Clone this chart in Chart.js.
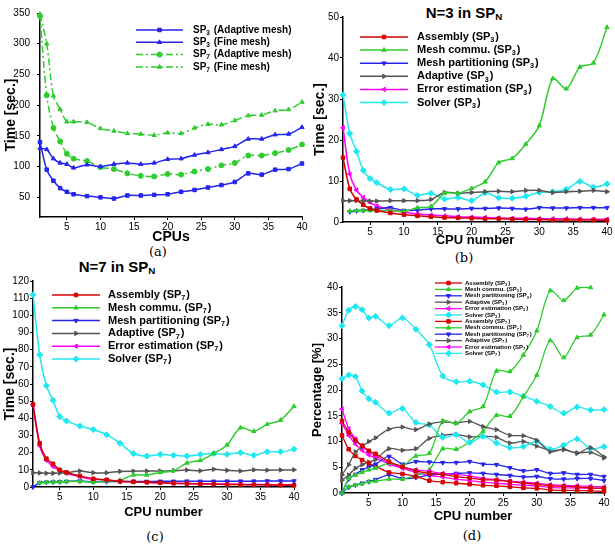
<!DOCTYPE html>
<html>
<head>
<meta charset="utf-8">
<script src="https://cdn.jsdelivr.net/npm/chart.js@4.4.1/dist/chart.umd.min.js"></script>
<style>
  body { margin: 0; background: #fff; }
  #page { position: relative; width: 615px; height: 544px; overflow: hidden; font-family: "Liberation Sans", Arial, sans-serif; }
  .panel { position: absolute; }
  .title { position: absolute; font-weight: bold; font-size: 15px; white-space: nowrap; transform: translate(-50%, -50%); }
  .title sub { font-size: 0.65em; vertical-align: -0.3em; }
  .cap { position: absolute; font-family: "DejaVu Serif", "Liberation Serif", serif; font-size: 13px; transform: translate(-50%, -50%); }
</style>
</head>
<body>
<div id="page">
  <div class="title" style="left:464px;top:13px">N=3 in SP<sub>N</sub></div>
  <div class="title" style="left:117px;top:267px">N=7 in SP<sub>N</sub></div>
  <div class="cap" style="left:158px;top:251px">(a)</div>
  <div class="cap" style="left:464px;top:257px">(b)</div>
  <div class="cap" style="left:155px;top:536px">(c)</div>
  <div class="cap" style="left:472px;top:535px">(d)</div>
</div>
<script>
// CPU counts on the x axis
const cpus = [1, 2, 3, 4, 5, 6, 8, 10, 12, 14, 16, 18, 20, 22, 24, 26, 28, 30, 32, 34, 36, 38, 40];
const xTicks = [5, 10, 15, 20, 25, 30, 35, 40];

// (a) total time
const aTicks = [50, 100, 150, 200, 250, 300, 350];
const sp3Adaptive = [140, 95, 77, 65, 59, 55, 52, 50, 48, 53, 53, 54, 55, 59, 62, 66, 70, 75, 89, 87, 95, 96, 105];
const sp3Fine = [130, 128, 113, 106, 104, 98, 103, 100, 104, 106, 104, 106, 112, 113, 119, 123, 128, 133, 145, 145, 152, 153, 164];
const sp7Adaptive = [345, 216, 163, 141, 121, 113, 109, 99, 96, 89, 85, 84, 88, 87, 92, 96, 102, 106, 118, 118, 122, 127, 136];
const sp7Fine = [348, 300, 215, 193, 173, 173, 172, 162, 158, 154, 153, 151, 155, 154, 163, 169, 168, 175, 183, 184, 191, 193, 205];

// (b) N=3 breakdown
const bTicks = [0, 10, 20, 30, 40, 50];
const n3Assembly = [15.7, 8.1, 5.5, 4.2, 3.3, 2.8, 2.2, 1.8, 1.5, 1.3, 1.1, 1.0, 0.9, 0.8, 0.8, 0.7, 0.6, 0.6, 0.5, 0.5, 0.5, 0.5, 0.4];
const n3Commu = [null, 2.7, 2.8, 2.8, 2.8, 2.8, 2.8, 2.6, 3.5, 3.8, 7.0, 7.0, 8.2, 9.8, 14.5, 15.5, 19.0, 23.5, 35.0, 32.5, 37.8, 38.8, 47.5];
const n3Partition = [null, 2.5, 2.7, 2.8, 3.0, 3.2, 3.5, 2.8, 2.9, 3.2, 3.2, 3.2, 3.3, 3.3, 3.4, 3.3, 3.1, 3.5, 3.4, 3.4, 3.5, 3.5, 3.5];
const n3Adaptive = [5.2, 5.2, 5.2, 5.1, 5.1, 5.1, 5.2, 5.2, 5.2, 5.5, 7.2, 7.0, 7.2, 7.4, 7.5, 7.4, 7.7, 7.7, 7.2, 7.4, 7.5, 7.7, 7.4];
const n3ErrorEst = [23, 11.7, 7.8, 6.0, 4.8, 3.9, 3.0, 2.4, 2.0, 1.7, 1.5, 1.3, 1.2, 1.1, 1.0, 0.9, 0.9, 0.8, 0.8, 0.8, 0.7, 0.7, 0.7];
const n3Solver = [31, 21.6, 17.2, 12.6, 10.6, 9.6, 7.9, 8.1, 6.5, 7.0, 5.6, 6.0, 5.2, 7.1, 5.9, 5.8, 6.3, 7.2, 7.4, 8.0, 9.9, 8.5, 9.3];

// (c) N=7 breakdown
const cTicks = [0, 10, 20, 30, 40, 50, 60, 70, 80, 90, 100, 110, 120];
const n7Assembly = [48, 25.5, 16.5, 13.5, 10, 8.5, 6.5, 4.8, 4.2, 3.3, 3.0, 2.8, 2.5, 2.2, 2.0, 1.8, 1.7, 1.5, 1.4, 1.3, 1.2, 1.1, 1.0];
const n7Commu = [null, 2.5, 2.7, 2.9, 3.0, 3.2, 3.3, 2.9, 3.5, 4.0, 7.0, 7.0, 8.5, 9.5, 14, 15.5, 19.5, 24.5, 34.5, 32.5, 36.5, 39, 47];
const n7Partition = [0, 2.5, 2.8, 2.9, 3.0, 3.2, 3.5, 3.0, 3.1, 3.2, 3.2, 3.2, 3.3, 3.3, 3.4, 3.3, 3.3, 3.4, 3.4, 3.4, 3.5, 3.5, 3.5];
const n7Adaptive = [8.3, 8.2, 8.0, 8.0, 8.1, 8.3, 9.3, 8.3, 8.3, 9.1, 9.2, 9.3, 9.3, 9.5, 9.9, 9.4, 10.3, 9.7, 9.3, 10, 9.8, 9.9, 10];
const n7ErrorEst = [48, 24, 15.5, 12, 9.5, 8, 6, 4.5, 4, 3.3, 3.0, 2.7, 2.4, 2.2, 2.0, 1.9, 1.8, 1.6, 1.5, 1.5, 1.4, 1.3, 1.3];
const n7Solver = [112, 77, 59, 50.5, 41, 38.5, 35.5, 33.5, 30.5, 25.5, 19.5, 18, 19, 18.5, 18, 19, 19.5, 19, 20, 18.5, 20.5, 20.5, 22];

// (d) percentages
const dTicks = [0, 5, 10, 15, 20, 25, 30, 35, 40];
const pctN3Assembly = [14.0, 11.8, 10.2, 9.2, 8.2, 7.6, 6.1, 5.1, 4.3, 3.8, 3.6, 3.2, 2.9, 2.6, 2.5, 2.2, 1.9, 1.7, 1.4, 1.3, 1.2, 1.0, 0.9];
const pctN3Commu = [0, 2.8, 3.5, 4.0, 4.5, 4.8, 5.8, 5.3, 7.2, 7.7, 14.0, 13.5, 15.8, 16.8, 23.7, 23.6, 26.8, 31.5, 39.3, 37.4, 39.8, 39.9, null];
const pctN3Partition = [0, 2.7, 3.6, 4.5, 5.0, 5.6, 7.1, 5.6, 6.1, 6.0, 5.9, 5.9, 6.1, 5.6, 5.5, 4.9, 4.3, 4.5, 3.8, 3.9, 3.6, 3.6, 3.2];
const pctN3Adaptive = [3.5, 5.5, 8.0, 9.0, 10.0, 10.7, 12.4, 12.8, 12.3, 13.4, 13.8, 13.6, 13.9, 12.9, 12.3, 11.2, 11.1, 10.2, 8.0, 8.5, 7.7, 8.8, 7.0];
const pctN3ErrorEst = [16.3, 12.5, 10.5, 9.0, 8.0, 7.2, 5.8, 5.0, 4.5, 4.2, 3.8, 3.6, 3.3, 2.8, 2.6, 2.3, 2.1, 1.9, 1.6, 1.5, 1.4, 1.3, 1.2];
const pctN3Solver = [22.2, 22.9, 22.6, 19.8, 18.3, 17.6, 15.5, 16.4, 13.7, 13.2, 10.8, 11.3, 9.8, 11.0, 9.7, 8.8, 9.0, 10.0, 8.5, 9.3, 10.5, 8.6, 9.0];
const pctN7Assembly = [11.2, 8.5, 7.2, 6.4, 5.7, 5.2, 4.0, 3.7, 3.2, 2.4, 2.1, 1.9, 1.7, 1.5, 1.4, 1.2, 1.0, 0.9, 0.6, 0.5, 0.5, 0.4, 0.3];
const pctN7Commu = [0, 1.2, 1.5, 1.8, 2.2, 2.3, 2.7, 2.7, 3.4, 4.5, 8.6, 8.5, 9.9, 12.0, 15.1, 14.9, 18.7, 22.9, 29.6, 26.3, 30.2, 30.7, 34.6];
const pctN7Partition = [0, 1.1, 1.5, 1.9, 2.2, 2.6, 3.5, 2.8, 3.0, 3.5, 3.7, 3.8, 3.9, 3.8, 3.6, 3.4, 3.1, 3.2, 2.8, 2.7, 2.8, 2.8, 2.4];
const pctN7Adaptive = [2.5, 3.5, 4.8, 5.5, 6.0, 6.5, 8.6, 8.3, 8.6, 10.6, 11.2, 11.4, 10.9, 11.0, 10.8, 9.7, 10.0, 9.1, 8.3, 8.4, 7.8, 7.9, 6.8];
const pctN7ErrorEst = [13.5, 11.2, 9.5, 8.3, 7.4, 6.8, 5.6, 4.8, 4.0, 3.4, 3.1, 2.7, 2.4, 2.1, 1.9, 1.7, 1.5, 1.4, 1.1, 1.0, 1.0, 0.9, 0.9];
const pctN7Solver = [32.5, 35.5, 36.2, 35.6, 34.0, 34.3, 32.5, 34.0, 31.8, 28.8, 22.7, 21.6, 21.7, 21.0, 19.6, 19.6, 18.8, 17.8, 16.8, 15.5, 16.7, 16.1, 16.2];

const RED = '#d40000', GREEN = '#2ecc2e', BLUE = '#2525ee', GREY = '#555555', MAGENTA = '#ff00ff', CYAN = '#1ee8f0';
const FONT = '"Liberation Sans", Arial, sans-serif';

function pts(ys) {
  return cpus.map((c, i) => ({x: c, y: ys[i]}));
}

function ds(label, ys, color, style, rot, width, radius, dash) {
  return {
    label: label, data: pts(ys),
    borderColor: color, backgroundColor: color,
    borderWidth: width, borderDash: dash || [],
    pointStyle: style, pointRotation: rot, pointRadius: radius,
    pointBorderWidth: 1, tension: 0.3, clip: 6
  };
}

// draws "SP_3" style text with a subscript char
function richText(ctx, text, x, y, size) {
  const parts = text.split(/_(.)/);
  ctx.textBaseline = 'middle';
  ctx.textAlign = 'left';
  parts.forEach((p, i) => {
    const sub = i % 2 === 1;
    const s = sub ? size * 0.65 : size;
    ctx.font = 'bold ' + s + 'px ' + FONT;
    ctx.fillText(p, x, sub ? y + size * 0.3 : y);
    x += ctx.measureText(p).width + (sub ? 1 : 0);
  });
}

// legend drawn inside the plot area
const insideLegend = {
  id: 'insideLegend',
  afterDraw(chart, args, o) {
    const ctx = chart.ctx;
    chart.data.datasets.forEach((d, i) => {
      const y = o.y + i * o.rowH;
      ctx.save();
      ctx.strokeStyle = d.borderColor;
      ctx.fillStyle = d.borderColor;
      ctx.lineWidth = d.borderWidth;
      ctx.setLineDash(d.borderDash);
      ctx.beginPath();
      ctx.moveTo(o.x, y);
      ctx.lineTo(o.x + o.len, y);
      ctx.stroke();
      ctx.setLineDash([]);
      ctx.lineWidth = 1;
      Chart.helpers.drawPoint(ctx, {pointStyle: d.pointStyle, rotation: d.pointRotation, radius: d.pointRadius, borderWidth: 1}, o.x + o.len / 2, y);
      ctx.fillStyle = '#000';
      richText(ctx, d.label, o.textX, y, o.size);
      ctx.restore();
    });
  }
};

function panel(p) {
  const wrap = document.createElement('div');
  wrap.className = 'panel';
  wrap.style.left = p.box.l + 'px';
  wrap.style.top = p.box.t + 'px';
  const cv = document.createElement('canvas');
  cv.width = p.box.w; cv.height = p.box.h;
  cv.style.width = p.box.w + 'px'; cv.style.height = p.box.h + 'px';
  wrap.appendChild(cv);
  document.getElementById('page').appendChild(wrap);

  const xTitleLh = p.xTitleSize * 1.2, yTitleLh = p.yTitleSize * 1.2;
  const boxBottom = p.box.t + p.box.h;
  const leg = p.legend;

  new Chart(cv, {
    type: 'line',
    data: {datasets: p.datasets},
    plugins: [insideLegend],
    options: {
      responsive: false,
      animation: false,
      layout: {
        autoPadding: false,
        padding: {left: 0, top: p.area.t - p.box.t, right: p.box.l + p.box.w - p.area.r, bottom: 0}
      },
      plugins: {
        legend: {display: false},
        tooltip: {enabled: false},
        insideLegend: {
          x: leg.x - p.box.l, len: leg.len, textX: leg.textX - p.box.l,
          y: leg.y - p.box.t, rowH: leg.rowH, size: leg.size
        }
      },
      scales: {
        x: {
          type: 'linear', min: 1, max: 40,
          afterBuildTicks: s => { s.ticks = xTicks.map(v => ({value: v})); },
          afterFit: s => { s.height = boxBottom - p.area.b; },
          grid: {drawOnChartArea: false, tickLength: 3, color: '#000'},
          border: {color: '#000', width: 1.5},
          ticks: {color: '#000', padding: 1, maxRotation: 0, font: {family: FONT, size: 10}},
          title: {
            display: true, text: p.xTitle, color: '#000',
            font: {family: FONT, size: p.xTitleSize, weight: 'bold'},
            padding: {top: 0, bottom: boxBottom - p.xTitleY - xTitleLh / 2}
          }
        },
        y: {
          min: p.yMin, max: p.yMax,
          afterBuildTicks: s => { s.ticks = p.yTicks.map(v => ({value: v})); },
          afterFit: s => { s.width = p.area.l - p.box.l; },
          grid: {drawOnChartArea: false, tickLength: 3, color: '#000'},
          border: {color: '#000', width: 1.5},
          ticks: {color: '#000', padding: p.yTickPad, font: {family: FONT, size: 10}},
          title: {
            display: true, text: p.yTitle, color: '#000',
            font: {family: FONT, size: p.yTitleSize, weight: 'bold'},
            padding: {top: p.yTitleX - p.box.l - yTitleLh / 2, bottom: 0}
          }
        }
      }
    }
  });
}

const DASHDOT = [7, 3, 2, 3];

panel({
  box: {l: 0, t: 0, w: 310, h: 250},
  area: {l: 40, t: 11, r: 302, b: 217},
  yMin: 18, yMax: 350, yTicks: aTicks, yTickPad: 7,
  xTitle: 'CPUs', xTitleSize: 14, xTitleY: 237,
  yTitle: 'Time [sec.]', yTitleSize: 14, yTitleX: 11,
  legend: {x: 136, len: 47, textX: 193, y: 30, rowH: 12.3, size: 10},
  datasets: [
    ds('SP_3 (Adaptive mesh)', sp3Adaptive, BLUE, 'rect', 0, 1.5, 2.5),
    ds('SP_3 (Fine mesh)', sp3Fine, BLUE, 'triangle', 0, 1.5, 2.5),
    ds('SP_7 (Adaptive mesh)', sp7Adaptive, GREEN, 'circle', 0, 1.5, 2.5, DASHDOT),
    ds('SP_7 (Fine mesh)', sp7Fine, GREEN, 'triangle', 0, 1.5, 2.5, DASHDOT)
  ]
});

panel({
  box: {l: 305, t: 0, w: 310, h: 252},
  area: {l: 343, t: 17, r: 607, b: 222},
  yMin: 0, yMax: 50, yTicks: bTicks, yTickPad: 1,
  xTitle: 'CPU number', xTitleSize: 13, xTitleY: 240,
  yTitle: 'Time [sec.]', yTitleSize: 14, yTitleX: 320,
  legend: {x: 360, len: 48, textX: 417, y: 37, rowH: 13.1, size: 11},
  datasets: [
    ds('Assembly (SP_3)', n3Assembly, RED, 'rect', 0, 1.5, 2.5),
    ds('Mesh commu. (SP_3)', n3Commu, GREEN, 'triangle', 0, 1.5, 2.5),
    ds('Mesh partitioning (SP_3)', n3Partition, BLUE, 'triangle', 180, 1.5, 2.5),
    ds('Adaptive (SP_3)', n3Adaptive, GREY, 'triangle', 90, 1.5, 2.5),
    ds('Error estimation (SP_3)', n3ErrorEst, MAGENTA, 'triangle', -90, 1.5, 2.5),
    ds('Solver (SP_3)', n3Solver, CYAN, 'rectRot', 0, 1.5, 3)
  ]
});

panel({
  box: {l: 0, t: 272, w: 305, h: 255},
  area: {l: 33, t: 281, r: 294, b: 487},
  yMin: 0, yMax: 120, yTicks: cTicks, yTickPad: 1,
  xTitle: 'CPU number', xTitleSize: 13, xTitleY: 512,
  yTitle: 'Time [sec.]', yTitleSize: 14, yTitleX: 10,
  legend: {x: 52, len: 48, textX: 108, y: 295, rowH: 12.8, size: 11},
  datasets: [
    ds('Assembly (SP_7)', n7Assembly, RED, 'rect', 0, 1.5, 2.5),
    ds('Mesh commu. (SP_7)', n7Commu, GREEN, 'triangle', 0, 1.5, 2.5),
    ds('Mesh partitioning (SP_7)', n7Partition, BLUE, 'triangle', 180, 1.5, 2.5),
    ds('Adaptive (SP_7)', n7Adaptive, GREY, 'triangle', 90, 1.5, 2.5),
    ds('Error estimation (SP_7)', n7ErrorEst, MAGENTA, 'triangle', -90, 1.5, 2.5),
    ds('Solver (SP_7)', n7Solver, CYAN, 'rectRot', 0, 1.5, 3)
  ]
});

panel({
  box: {l: 305, t: 272, w: 310, h: 258},
  area: {l: 342, t: 287, r: 604, b: 493},
  yMin: 0, yMax: 40, yTicks: dTicks, yTickPad: 1,
  xTitle: 'CPU number', xTitleSize: 13, xTitleY: 516,
  yTitle: 'Percentage [%]', yTitleSize: 13, yTitleX: 317,
  legend: {x: 435, len: 27, textX: 465, y: 283, rowH: 6.4, size: 6},
  datasets: [
    ds('Assembly (SP_3)', pctN3Assembly, RED, 'rect', 0, 1.3, 2.5),
    ds('Mesh commu. (SP_3)', pctN3Commu, GREEN, 'triangle', 0, 1.3, 2.5),
    ds('Mesh partitioning (SP_3)', pctN3Partition, BLUE, 'triangle', 180, 1.3, 2.5),
    ds('Adaptive (SP_3)', pctN3Adaptive, GREY, 'triangle', 90, 1.3, 2.5),
    ds('Error estimation (SP_3)', pctN3ErrorEst, MAGENTA, 'triangle', -90, 1.3, 2.5),
    ds('Solver (SP_3)', pctN3Solver, CYAN, 'rectRot', 0, 1.3, 3),
    ds('Assembly (SP_7)', pctN7Assembly, RED, 'rect', 0, 1.3, 2.5),
    ds('Mesh commu. (SP_7)', pctN7Commu, GREEN, 'triangle', 0, 1.3, 2.5),
    ds('Mesh partitioning (SP_7)', pctN7Partition, BLUE, 'triangle', 180, 1.3, 2.5),
    ds('Adaptive (SP_7)', pctN7Adaptive, GREY, 'triangle', 90, 1.3, 2.5),
    ds('Error estimation (SP_7)', pctN7ErrorEst, MAGENTA, 'triangle', -90, 1.3, 2.5),
    ds('Solver (SP_7)', pctN7Solver, CYAN, 'rectRot', 0, 1.3, 3)
  ]
});
</script>
</body>
</html>
